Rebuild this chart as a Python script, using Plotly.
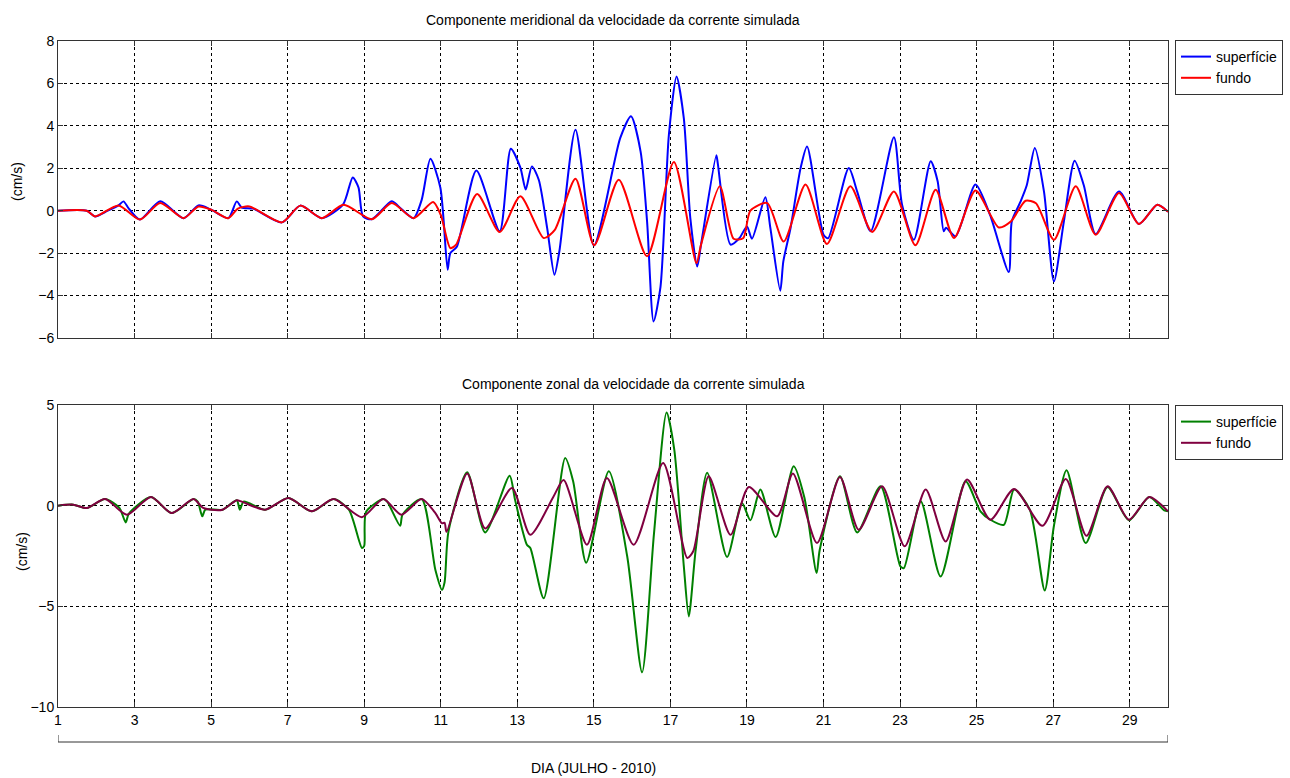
import plotly.graph_objects as go

# ---- data (day of July 2010, velocity cm/s) ----
days_top_sup = [1.0,1.75,1.97,2.3,2.58,2.71,2.85,3.14,3.67,4.28,4.67,5.0,5.45,5.67,5.8,6.1,6.85,7.33,7.89,8.45,8.7,8.85,8.97,9.2,9.72,9.9,10.29,10.5,10.73,10.99,11.18,11.25,11.42,11.93,12.54,12.83,13.08,13.22,13.38,13.56,13.78,13.97,14.1,14.52,15.0,15.69,15.97,16.22,16.39,16.56,16.74,16.96,17.16,17.35,17.52,17.70,17.8,18.2,18.24,18.57,18.8,19.0,19.13,19.48,19.61,19.87,19.95,20.14,20.4,20.57,21.0,21.12,21.66,21.88,22.23,22.84,23.05,23.36,23.8,23.98,24.14,24.2,24.45,24.97,25.35,25.84,25.92,26.14,26.31,26.52,26.76,27.02,27.28,27.56,27.8,28.11,28.72,29.24,29.72,30.0]
vel_top_sup = [0,0,-0.27,0,0.25,0.44,0.1,-0.42,0.45,-0.35,0.25,0.05,-0.35,0.44,0.15,0.1,-0.55,0.24,-0.35,0.3,1.57,1.1,-0.27,-0.4,0.45,0.2,-0.35,0.5,2.45,1.08,-2.78,-2.0,-1.7,1.89,-0.97,2.92,2.03,1.0,2.09,1.46,-0.82,-3.02,-1.9,3.82,-1.64,3.43,4.45,2.8,-0.5,-5.22,-3.6,3.58,6.33,4.37,-0.35,-2.63,-1.6,2.61,2.2,-1.6,-1.3,-0.74,-1.32,0.63,-0.8,-3.77,-2.39,-0.8,2.0,3.03,-1.13,-1.3,2.01,0.9,-0.97,3.46,0.3,-1.37,2.33,1.4,-0.97,-0.8,-1.21,1.23,-0.2,-2.89,-0.5,0.4,1.2,2.96,0.9,-3.33,-0.5,2.36,1.2,-1.1,0.91,-0.63,0.28,-0.05]

days_top_fun = [1.0,1.75,1.97,2.58,3.14,3.67,4.28,4.67,5.0,5.45,5.7,6.0,6.85,7.33,7.89,8.46,9.2,9.72,10.29,10.8,11.0,11.25,11.4,11.95,12.54,13.08,13.69,13.98,14.52,15.01,15.65,16.39,17.09,17.68,17.8,18.29,18.65,18.9,19.09,19.53,19.96,20.53,21.09,21.7,22.27,22.84,23.4,23.93,24.41,24.97,25.58,25.9,26.28,26.55,27.02,27.59,28.11,28.72,29.24,29.72,30.0]
vel_top_fun = [0,0,-0.27,0.25,-0.42,0.36,-0.35,0.2,0.05,-0.35,0.1,0.2,-0.55,0.24,-0.35,0.28,-0.4,0.36,-0.35,0.41,-0.2,-1.76,-1.6,0.79,-1.0,0.68,-1.29,-0.9,1.51,-1.63,1.46,-2.15,2.3,-2.47,-1.6,1.15,-1.32,-1.3,0,0.36,-1.45,1.23,-1.57,1.15,-1.0,0.91,-1.63,0.99,-1.29,0.95,-0.79,-0.5,0.47,0.35,-1.37,1.15,-1.13,0.83,-0.63,0.28,-0.05]

days_bot_sup = [1.0,1.4,1.75,2.23,2.6,2.77,2.85,3.43,3.97,4.54,4.65,4.77,4.85,5.3,5.67,5.75,5.85,6.41,7.02,7.63,8.2,8.6,8.94,9.0,9.05,9.5,9.6,9.94,10.0,10.5,10.86,11.03,11.1,11.2,11.69,12.16,12.8,12.94,13.25,13.34,13.69,14.25,14.46,14.8,15.39,15.87,16.26,16.57,16.90,17.1,17.35,17.48,17.66,17.96,18.48,18.87,19.09,19.35,19.75,20.22,20.5,20.82,20.9,21.43,21.88,22.49,23.01,23.1,23.54,24.06,24.71,25.1,25.36,25.71,25.98,26.39,26.78,27.02,27.35,27.85,28.42,28.98,29.51,29.9,30.0]
vel_bot_sup = [0,0.05,-0.12,0.33,-0.1,-0.83,-0.4,0.43,-0.37,0.33,0.2,-0.53,-0.2,-0.2,0.27,-0.2,0.2,-0.2,0.38,-0.28,0.33,-0.2,-2.1,-2.0,-0.3,0.33,0.2,-1.0,-0.45,0.33,-3.2,-4.18,-3.8,-1.3,1.66,-1.33,1.49,0.3,-1.94,-2.1,-4.6,2.37,1.2,-2.83,1.71,-2.5,-8.28,-1.4,4.63,2.8,-3.0,-5.5,-2.2,1.63,-2.55,0.13,-0.73,0.8,-1.56,1.96,0.4,-3.35,-2.2,1.46,-1.33,0.96,-3.02,-3.1,0.22,-3.52,1.21,-0.28,-0.7,-0.95,0.8,-0.2,-4.21,-1.0,1.76,-1.86,0.93,-0.73,0.43,-0.23,-0.28]

days_bot_fun = [1.0,1.4,1.75,2.23,2.8,3.43,3.97,4.54,4.78,5.0,5.3,5.67,5.8,6.41,7.02,7.63,8.2,8.94,9.5,9.97,10.5,10.86,11.03,11.1,11.15,11.69,12.16,12.86,13.34,13.95,14.21,14.82,15.34,16.04,16.81,17.44,17.6,18.0,18.57,19.05,19.79,20.2,20.83,21.43,21.92,22.53,23.12,23.67,24.19,24.75,25.36,25.98,26.72,27.33,27.87,28.42,28.98,29.51,30.0]
vel_bot_fun = [0,0.05,-0.12,0.33,-0.45,0.43,-0.37,0.33,-0.1,-0.2,-0.2,0.27,0.2,-0.2,0.38,-0.28,0.33,-0.57,0.33,-0.45,0.33,-0.37,-0.87,-0.85,-1.3,1.6,-1.13,0.88,-1.45,0.47,1.27,-1.94,1.38,-1.94,2.12,-2.6,-2.25,1.46,-1.45,0.93,-0.53,1.6,-1.86,1.43,-1.2,0.96,-2.02,0.8,-1.78,1.3,-0.7,0.83,-1.0,1.33,-1.5,0.96,-0.7,0.43,-0.28]

x_ticks = [1,3,5,7,9,11,13,15,17,19,21,23,25,27,29]
y_ticks_top = [-6,-4,-2,0,2,4,6,8]
y_ticks_bot = [-10,-5,0,5]

W, H = 1290, 778
FONT = "Liberation Sans"
FS = 14

def py(ypix):
    return 1 - ypix / H

fig = go.Figure()

line_kw = dict(shape="spline", smoothing=0.7, width=2)
fig.add_trace(go.Scatter(x=days_top_sup, y=vel_top_sup, mode="lines", name="superfície",
                         line=dict(color="#0000FF", **line_kw), xaxis="x", yaxis="y", legend="legend"))
fig.add_trace(go.Scatter(x=days_top_fun, y=vel_top_fun, mode="lines", name="fundo",
                         line=dict(color="#FF0000", **line_kw), xaxis="x", yaxis="y", legend="legend"))
fig.add_trace(go.Scatter(x=days_bot_sup, y=vel_bot_sup, mode="lines", name="superfície",
                         line=dict(color="#008000", **line_kw), xaxis="x2", yaxis="y2", legend="legend2"))
fig.add_trace(go.Scatter(x=days_bot_fun, y=vel_bot_fun, mode="lines", name="fundo",
                         line=dict(color="#800040", **line_kw), xaxis="x2", yaxis="y2", legend="legend2"))

axis_common = dict(showline=True, linecolor="#333333", linewidth=1, mirror="ticks",
                   ticks="inside", ticklen=5, tickcolor="#333333",
                   showgrid=True, gridcolor="black", gridwidth=1, griddash="3px,3px",
                   zeroline=False, tickfont=dict(family=FONT, size=FS, color="black"))

x0, x1 = 58 / W, 1168 / W
fig.update_layout(
    width=W, height=H,
    margin=dict(l=0, r=0, t=0, b=0, autoexpand=False),
    paper_bgcolor="white", plot_bgcolor="white",
    font=dict(family=FONT, size=FS, color="black"),
    xaxis=dict(domain=[x0, x1], range=[1, 30], tickvals=x_ticks, showticklabels=False,
               anchor="y", **axis_common),
    yaxis=dict(domain=[py(338), py(41)], range=[-6, 8], tickvals=y_ticks_top,
               anchor="x", **axis_common),
    xaxis2=dict(domain=[x0, x1], range=[1, 30], tickvals=x_ticks, showticklabels=True,
                anchor="y2", **axis_common),
    yaxis2=dict(domain=[py(707), py(405)], range=[-10, 5], tickvals=y_ticks_bot,
                anchor="x2", **axis_common),
    legend=dict(x=1175 / W, y=py(40), xanchor="left", yanchor="top",
                bgcolor="white", bordercolor="#333333", borderwidth=1,
                font=dict(family=FONT, size=FS, color="black"), itemwidth=30, tracegroupgap=0),
    legend2=dict(x=1175 / W, y=py(405), xanchor="left", yanchor="top",
                 bgcolor="white", bordercolor="#333333", borderwidth=1,
                 font=dict(family=FONT, size=FS, color="black"), itemwidth=30, tracegroupgap=0),
    showlegend=True,
)

annotations = [
    dict(text="Componente meridional da velocidade da corrente simulada", x=613 / W, y=py(20),
         xref="paper", yref="paper", yanchor="middle", showarrow=False, font=dict(family=FONT, size=FS)),
    dict(text="Componente zonal da velocidade da corrente simulada", x=633 / W, y=py(384),
         xref="paper", yref="paper", yanchor="middle", showarrow=False, font=dict(family=FONT, size=FS)),
    dict(text="(cm/s)", x=17 / W, y=py(182), xref="paper", yref="paper", showarrow=False,
         xanchor="center", yanchor="middle", textangle=-90, font=dict(family=FONT, size=FS)),
    dict(text="(cm/s)", x=22 / W, y=py(552), xref="paper", yref="paper", showarrow=False,
         xanchor="center", yanchor="middle", textangle=-90, font=dict(family=FONT, size=FS)),
    dict(text="DIA (JULHO - 2010)", x=593 / W, y=py(768), xref="paper", yref="paper",
         yanchor="middle", showarrow=False, font=dict(family=FONT, size=FS)),
]
fig.update_layout(annotations=annotations)

shapes = [
    dict(type="line", xref="x2", yref="paper", x0=1, x1=30, y0=py(742), y1=py(742),
         line=dict(color="#333333", width=1)),
    dict(type="line", xref="x2", yref="paper", x0=1, x1=1, y0=py(735), y1=py(742),
         line=dict(color="#333333", width=1)),
    dict(type="line", xref="x2", yref="paper", x0=30, x1=30, y0=py(735), y1=py(742),
         line=dict(color="#333333", width=1)),
]
fig.update_layout(shapes=shapes)

fig.write_html("out.html", config={"displayModeBar": False},
               post_script="document.body.style.margin='0';document.body.style.overflow='hidden';")
